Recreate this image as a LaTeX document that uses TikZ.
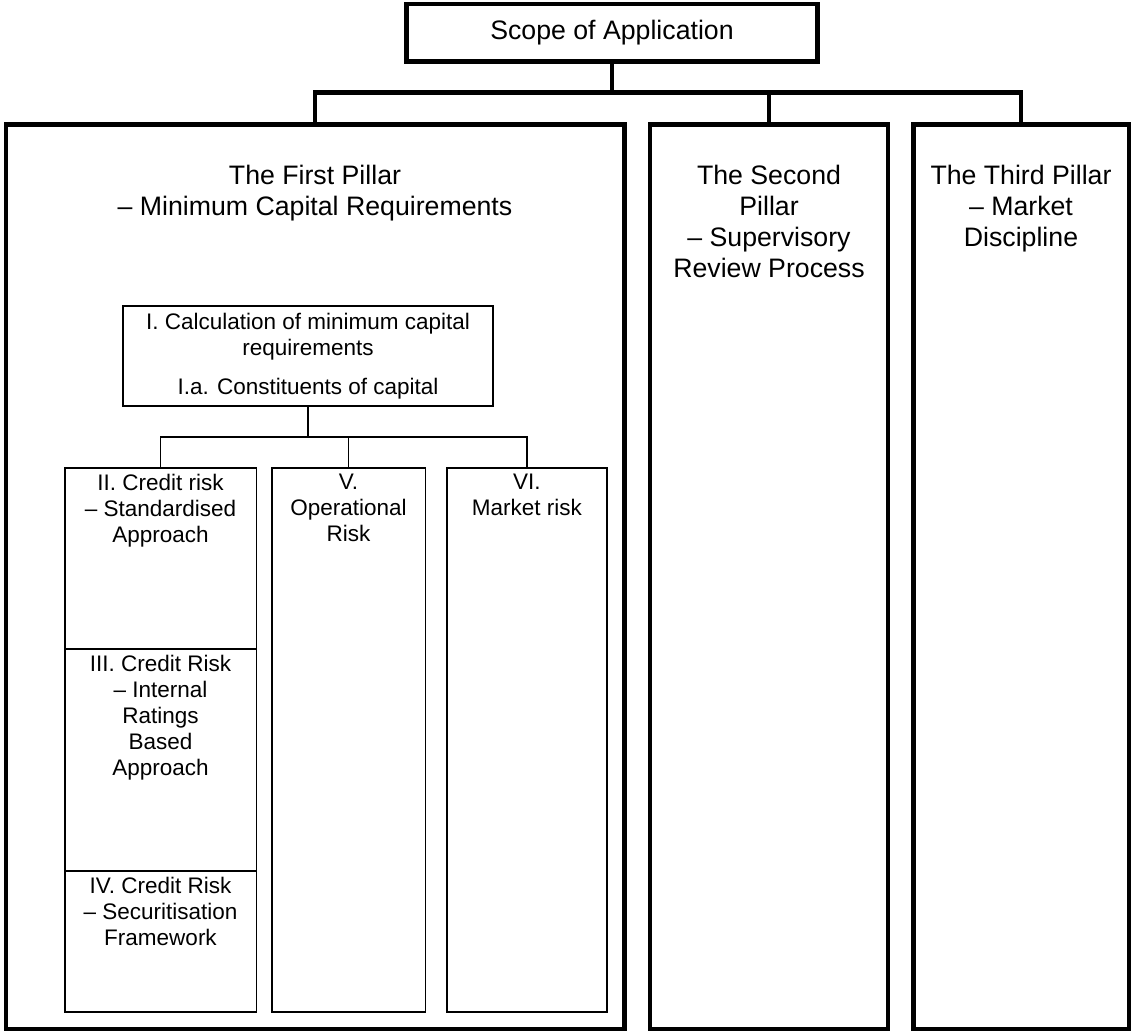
\documentclass[tikz,border=0pt]{standalone}
\usepackage{fontspec}
\setmainfont{Liberation Sans}
\usetikzlibrary{positioning}

\begin{document}
\begin{tikzpicture}[x=1pt, y=-1pt,
        bigbox/.style={draw=black, line width=4.5pt, inner sep=0pt},
        smallbox/.style={draw=black, line width=1.5pt, inner sep=0pt},
        bigtext/.style={inner sep=0pt, align=center, font=\fontsize{26.7}{31}\selectfont},
        smalltext/.style={inner sep=0pt, align=center, font=\fontsize{22.5}{26}\selectfont}]
        \useasboundingbox (0, 0) rectangle (1132, 1033);

        \node[bigbox, bigtext, minimum width=411pt, minimum height=57.5pt] (scope) at (612, 33) {Scope of Application};

        \node[bigbox, minimum width=618.5pt, minimum height=904.5pt] (P1) at (315, 576.5) {};
        \node[bigbox, minimum width=238pt, minimum height=904.5pt] (P2) at (769, 576.5) {};
        \node[bigbox, minimum width=215.5pt, minimum height=904.5pt] (P3) at (1021, 576.5) {};

        \node[bigtext, below=43pt of P1.north] (P1title) {The First Pillar\\– Minimum Capital Requirements};
        \node[bigtext, below=43pt of P2.north] (P2title) {The Second\\Pillar\\– Supervisory\\Review Process};
        \node[bigtext, below=43pt of P3.north] (P3title) {The Third Pillar\\– Market\\Discipline};

        \node[smallbox, smalltext, minimum width=370pt, minimum height=100pt] (calc) at (308, 356) {I. Calculation of minimum capital\\requirements\\[13pt]I.a. Constituents of capital};

        \node[smallbox, minimum width=191.5pt, minimum height=181pt] (II) at (160.5, 558.5) {};
        \node[smallbox, minimum width=191.5pt, minimum height=222pt] (III) at (160.5, 760) {};
        \node[smallbox, minimum width=191.5pt, minimum height=141pt] (IV) at (160.5, 941.5) {};
        \node[smallbox, minimum width=153.5pt, minimum height=544pt] (V) at (348.5, 740) {};
        \node[smallbox, minimum width=160pt, minimum height=544pt] (VI) at (526.8, 740) {};

        \node[smalltext, below=7pt of II.north] (IItitle) {II. Credit risk\\– Standardised\\Approach};
        \node[smalltext, below=7pt of III.north] (IIItitle) {III. Credit Risk\\– Internal\\Ratings\\Based\\Approach};
        \node[smalltext, below=7pt of IV.north] (IVtitle) {IV. Credit Risk\\– Securitisation\\Framework};
        \node[smalltext, below=7pt of V.north] (Vtitle) {V.\\Operational\\Risk};
        \node[smalltext, below=7pt of VI.north] (VItitle) {VI.\\Market risk};

        \coordinate (top) at (612, 92.5);
        \path [line width=4.5pt] (scope) edge (top);
        \draw [line width=4.5pt] (P1.north) |- (top) -| (P3.north);
        \path [line width=4.5pt] (top -| P2.north) edge (P2.north);

        \coordinate (mid) at (308, 437);
        \path [line width=2.5pt] (calc) edge (mid);
        \draw [line width=1.5pt] (II.north) |- (mid) -| (VI.north);
        \path [line width=1.5pt] (mid -| V.north) edge (V.north);
    \end{tikzpicture}
\end{document}
